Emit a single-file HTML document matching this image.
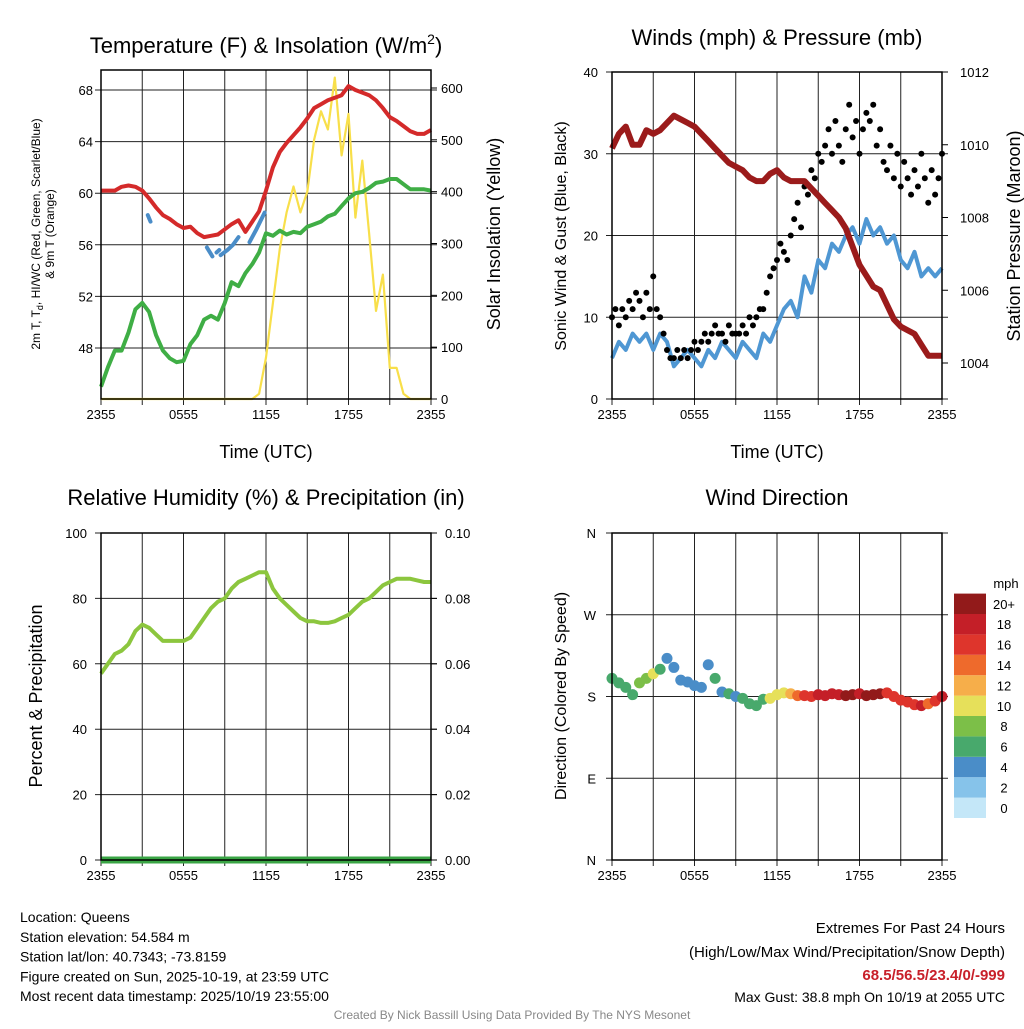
<!DOCTYPE html>
<html><head><meta charset="utf-8"><style>
body{margin:0;background:#fff;}
svg text{font-family:"Liberation Sans",sans-serif;fill:#000;}
</style></head><body>
<svg id="c" width="1024" height="1024" viewBox="0 0 1024 1024" xmlns="http://www.w3.org/2000/svg">
<rect width="1024" height="1024" fill="#fff"/>
</svg>
<script>
// ---- data (half-hourly, 2355 -> 2355 UTC) ----
const xTickLabels = ["2355","0555","1155","1755","2355"];
const temperature = [60.2,60.2,60.2,60.5,60.6,60.5,60.2,59.6,58.9,58.3,58.0,57.6,57.3,57.4,56.9,56.6,56.7,56.8,57.2,57.6,57.9,57.0,57.8,58.6,60.2,62.0,63.2,63.9,64.5,65.1,65.8,66.6,66.9,67.2,67.4,67.6,68.3,68.0,67.8,67.6,67.2,66.6,65.9,65.6,65.2,64.8,64.6,64.6,64.9];
const dewpoint = [45.0,46.5,47.8,47.8,49.2,51.0,51.5,50.8,49.0,47.8,47.2,46.9,47.0,48.3,49.0,50.2,50.5,50.2,51.5,53.1,52.8,53.8,54.5,55.4,56.9,56.7,57.1,56.8,57.0,56.9,57.4,57.6,57.8,58.2,58.4,59.0,59.6,60.0,60.1,60.4,60.8,60.9,61.1,61.1,60.7,60.3,60.3,60.3,60.2];
const windChillTimes = [3.4,3.6,null,7.7,8.1,null,8.4,8.6,null,8.7,9.2,9.6,10.0,null,10.8,11.3,11.9];
const windChillValues = [58.3,57.8,null,55.8,55.1,null,55.4,55.6,null,55.2,55.6,56.0,56.6,null,56.2,57.2,58.5];
const solar = [0,0,0,0,0,0,0,0,0,0,0,0,0,0,0,0,0,0,0,0,0,0,0,10,80,185,290,360,410,360,400,500,555,520,620,470,550,350,460,320,170,240,60,60,10,0,0,0,0];
const tempTicks = [48,52,56,60,64,68];
const solarTicks = [0,100,200,300,400,500,600];
const wind = [5,7,6,8,7,8,6,8,7,4,5,6,5,4,6,5,7,6,5,7,6,5,8,7,9,11,12,10,15,13,17,16,19,18,20,21,19,22,20,21,19,20,17,16,18,15,16,15,16];
const gust = [10,11,9,11,10,12,11,13,12,10,13,11,15,11,10,8,6,5,5,6,5,6,5,6,7,6,7,8,7,8,9,8,8,7,9,8,8,8,9,8,10,9,10,11,11,13,15,16,17,19,18,17,20,22,24,21,26,25,28,27,30,29,31,33,30,34,31,29,33,36,32,34,30,33,35,34,36,31,33,29,28,31,27,30,26,29,27,25,28,26,30,27,24,28,25,27,30];
const pressure = [1009.9,1010.3,1010.5,1010.0,1010.0,1010.4,1010.3,1010.4,1010.6,1010.8,1010.7,1010.6,1010.5,1010.3,1010.1,1009.9,1009.7,1009.5,1009.4,1009.3,1009.1,1009.0,1009.0,1009.2,1009.3,1009.1,1009.0,1009.0,1009.0,1008.8,1008.6,1008.4,1008.2,1008.0,1007.7,1007.2,1006.7,1006.4,1006.1,1006.0,1005.6,1005.2,1005.0,1004.9,1004.8,1004.5,1004.2,1004.2,1004.2];
const windTicks = [0,10,20,30,40];
const pressTicks = [1004,1006,1008,1010,1012];
const rh = [57,60,63,64,66,70,72,71,69,67,67,67,67,68,71,74,77,79,80,83,85,86,87,88,88,83,80,78,76,74,73,73,72.5,72.5,73,74,75,77,79,80,82,84,85,86,86,86,85.5,85,85];
const precip = [0,0,0,0,0,0,0,0,0,0,0,0,0,0,0,0,0,0,0,0,0,0,0,0,0,0,0,0,0,0,0,0,0,0,0,0,0,0,0,0,0,0,0,0,0,0,0,0,0];
const rhTicks = [0,20,40,60,80,100];
const precipTicks = ["0.00","0.02","0.04","0.06","0.08","0.10"];
const direction = [200,195,190,182,195,200,205,210,222,212,198,196,192,190,215,200,185,183,180,178,172,170,177,178,182,184,183,181,181,180,182,181,183,182,181,182,183,181,182,183,184,180,176,174,171,170,172,175,180];
const dirTicks = ["N","E","S","W","N"];
const cbLabels = ["0","2","4","6","8","10","12","14","16","18","20+"];
const cbColors = ["#c4e7f8","#86c3ea","#4a8dc8","#48a96c","#7cbf48","#e6e05a","#f6ae4a","#ee6a2c","#de352c","#c41f28","#921a1a"];

const NS="http://www.w3.org/2000/svg";
const svg=document.getElementById('c');
function el(tag,attrs,parent){const e=document.createElementNS(NS,tag);for(const k in attrs)e.setAttribute(k,attrs[k]);(parent||svg).appendChild(e);return e;}
function txt(s,x,y,size,anchor,parent,extra){const t=el('text',Object.assign({x:x,y:y,'font-size':size,'text-anchor':anchor||'middle'},extra||{}),parent);t.textContent=s;return t;}

// panel frames
const P=[{x0:101,x1:431,y0:70,y1:399},{x0:612,x1:942,y0:72,y1:399},{x0:101,x1:431,y0:533,y1:860},{x0:612,x1:942,y0:533,y1:860}];
function xs(p,t){return p.x0+t/24*(p.x1-p.x0);}
function lin(v,a,b,ya,yb){return ya+(v-a)/(b-a)*(yb-ya);}
function grid(p,g,hys){
  for(let h=0;h<=24;h+=3){const x=xs(p,h);el('line',{x1:x,x2:x,y1:p.y0,y2:p.y1+6,stroke:'#222','stroke-width':1},g);}
  hys.forEach(y=>{el('line',{x1:p.x0-6,x2:p.x1+6,y1:y,y2:y,stroke:'#222','stroke-width':1},g);});
  for(let i=0;i<5;i++){txt(xTickLabels[i],xs(p,i*6),p.y1+20,13,'middle',g);}
}
function frame(p,g){el('rect',{x:p.x0,y:p.y0,width:p.x1-p.x0,height:p.y1-p.y0,fill:'none',stroke:'#000','stroke-width':1.5},g);}
function pathD(ts,vs,fx,fy){let d='',pen=false;for(let i=0;i<vs.length;i++){if(vs[i]===null||ts[i]===null){pen=false;continue;}d+=(pen?'L':'M')+fx(ts[i]).toFixed(1)+','+fy(vs[i]).toFixed(1);pen=true;}return d;}
const half=temperature.map((_,i)=>i*0.5);

// ===== Panel 1 =====
{const p=P[0];const g=el('g',{});


const ty=v=>lin(v,68,48,90,348);const sy=v=>lin(v,0,600,399,88);
grid(p,g,tempTicks.map(ty));
tempTicks.forEach(v=>txt(String(v),p.x0-8,ty(v)+5,13,'end',g));
solarTicks.forEach(v=>{el('line',{x1:p.x1,x2:p.x1+6,y1:sy(v),y2:sy(v),stroke:'#000'},g);txt(String(v),p.x1+10,sy(v)+5,13,'start',g);});
const fx=t=>xs(p,t);
const sl=el('path',{d:pathD(half,solar,fx,sy),fill:'none',stroke:'#f8df4a','stroke-width':2.2,'stroke-linejoin':'round'},g);


const dl=el('path',{d:pathD(half,dewpoint,fx,ty),fill:'none',stroke:'#3fae45','stroke-width':4,'stroke-linejoin':'round'},g);


const wl=el('path',{d:pathD(windChillTimes,windChillValues,fx,ty),fill:'none',stroke:'#4a8dc8','stroke-width':4,'stroke-linecap':'round'},g);


const tl=el('path',{d:pathD(half,temperature,fx,ty),fill:'none',stroke:'#d42a2a','stroke-width':4,'stroke-linejoin':'round'},g);


frame(p,g);
const t1=el('text',{x:266,y:53,'font-size':22,'text-anchor':'middle'},g);t1.innerHTML='Temperature (F) &amp; Insolation (W/m<tspan dy="-9" font-size="14">2</tspan><tspan dy="9">)</tspan>';


const xl=txt('Time (UTC)',266,458,18,'middle',g);


const yl=el('text',{transform:'translate(40,234) rotate(-90)','font-size':12,'text-anchor':'middle'},g);
yl.innerHTML='<tspan x="0" y="0">2m T, T<tspan dy="3" font-size="9">d</tspan><tspan dy="-3">, HI/WC (Red, Green, Scarlet/Blue)</tspan></tspan><tspan x="0" y="14">&amp; 9m T (Orange)</tspan>';


const yr=el('text',{transform:'translate(500,234) rotate(-90)','font-size':18,'text-anchor':'middle'},g);yr.textContent='Solar Insolation (Yellow)';


}

// ===== Panel 2 =====
{const p=P[1];const g=el('g',{});


const wy=v=>lin(v,0,40,399,72);const py=v=>lin(v,1012,1004,72,363);
grid(p,g,windTicks.map(wy));
windTicks.forEach(v=>txt(String(v),p.x0-14,wy(v)+5,13,'end',g));
pressTicks.forEach(v=>{el('line',{x1:p.x1,x2:p.x1+6,y1:py(v),y2:py(v),stroke:'#000'},g);txt(String(v),p.x1+18,py(v)+5,13,'start',g);});
const fx=t=>xs(p,t);
const wl=el('path',{d:pathD(half,wind,fx,wy),fill:'none',stroke:'#4f97d3','stroke-width':4,'stroke-linejoin':'round'},g);


const gg=el('g',{},g);


gust.forEach((v,i)=>{const c=el('circle',{cx:fx(i*0.25),cy:wy(v),r:3,fill:'#000'},gg);

});
const pl=el('path',{d:pathD(half,pressure,fx,py),fill:'none',stroke:'#9b1b1b','stroke-width':6,'stroke-linejoin':'round'},g);


frame(p,g);
const t2=txt('Winds (mph) & Pressure (mb)',777,45,22,'middle',g);


const xl=txt('Time (UTC)',777,458,18,'middle',g);


const yl=el('text',{transform:'translate(566,236) rotate(-90)','font-size':16,'text-anchor':'middle'},g);yl.textContent='Sonic Wind & Gust (Blue, Black)';


const yr=el('text',{transform:'translate(1020,236) rotate(-90)','font-size':18,'text-anchor':'middle'},g);yr.textContent='Station Pressure (Maroon)';


}

// ===== Panel 3 =====
{const p=P[2];const g=el('g',{});


const ry=v=>lin(v,0,100,860,533);
grid(p,g,rhTicks.map(ry));
rhTicks.forEach(v=>txt(String(v),p.x0-14,ry(v)+5,13,'end',g));
precipTicks.forEach((s,i)=>{const y=ry(i*20);el('line',{x1:p.x1,x2:p.x1+6,y1:y,y2:y,stroke:'#000'},g);txt(s,p.x1+14,y+5,13,'start',g);});
const fx=t=>xs(p,t);
const rl=el('path',{d:pathD(half,rh,fx,ry),fill:'none',stroke:'#8cc63e','stroke-width':4,'stroke-linejoin':'round'},g);


const pl=el('path',{d:pathD(half,precip,fx,v=>ry(v*1000)),fill:'none',stroke:'#3aa545','stroke-width':7},g);


frame(p,g);
const t3=txt('Relative Humidity (%) & Precipitation (in)',266,505,22,'middle',g);


const yl=el('text',{transform:'translate(42,696) rotate(-90)','font-size':18,'text-anchor':'middle'},g);yl.textContent='Percent & Precipitation';


}

// ===== Panel 4 =====
{const p=P[3];const g=el('g',{});


const dy=v=>lin(v,0,360,860,533);
grid(p,g,[0,90,180,270,360].map(dy));
dirTicks.forEach((s,i)=>txt(s,p.x0-16,dy(i*90)+5,13,'end',g));
const fx=t=>xs(p,t);
function col(s){let k=Math.round(s/2);if(k>10)k=10;if(k<0)k=0;return cbColors[k];}
const dg=el('g',{},g);


direction.forEach((v,i)=>{const c=el('circle',{cx:fx(i*0.5),cy:dy(v),r:5.5,fill:col(gust[i*2]*0.6)},dg);

});
frame(p,g);
const t4=txt('Wind Direction',777,505,22,'middle',g);


const yl=el('text',{transform:'translate(566,696) rotate(-90)','font-size':16,'text-anchor':'middle'},g);yl.textContent='Direction (Colored By Speed)';


// colorbar
const cb=el('g',{},g);


const bh=20.4;
cbColors.forEach((c,i)=>{const y=818-(i+1)*bh;el('rect',{x:954,y:y,width:32,height:bh,fill:c},cb);
txt(cbLabels[i],1004,y+bh/2+5,13,'middle',cb);});
txt('mph',1006,588,13,'middle',cb);
}

// ===== footer text =====
const info=["Location: Queens","Station elevation: 54.584 m","Station lat/lon: 40.7343; -73.8159","Figure created on Sun, 2025-10-19, at 23:59 UTC","Most recent data timestamp: 2025/10/19 23:55:00"];
const ig=el('g',{});


info.forEach((s,i)=>txt(s,20,922+i*19.8,14,'start',ig));
const eg=el('g',{});


txt('Extremes For Past 24 Hours',1005,933,15,'end',eg);
txt('(High/Low/Max Wind/Precipitation/Snow Depth)',1005,957,15,'end',eg);
txt('68.5/56.5/23.4/0/-999',1005,980,15,'end',eg,{'font-weight':'bold',fill:'#c8202a',style:'fill:#c8202a'});
txt('Max Gust: 38.8 mph On 10/19 at 2055 UTC',1005,1002,14,'end',eg);
const cr=txt('Created By Nick Bassill Using Data Provided By The NYS Mesonet',512,1019,12,'middle',null,{style:'fill:#888'});


</script>
</body></html>
